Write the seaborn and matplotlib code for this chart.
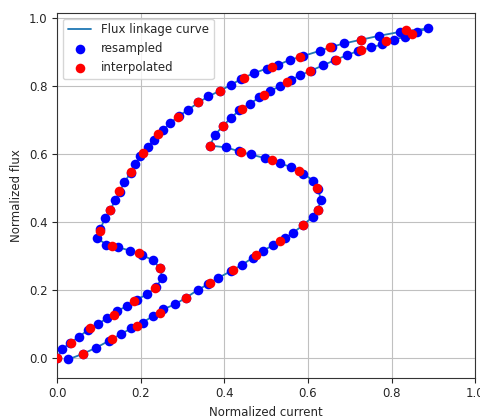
import matplotlib
matplotlib.use("Agg")
import matplotlib.pyplot as plt
import seaborn as sns

# resampled points, in order along the flux linkage curve
blue_x = [0.000, 0.012, 0.032, 0.053, 0.074, 0.097, 0.120, 0.144, 0.168, 0.190, 0.215, 0.236, 0.252,
          0.246, 0.229, 0.203, 0.175, 0.145, 0.117, 0.095, 0.103, 0.115, 0.127, 0.139, 0.150, 0.161,
          0.176, 0.187, 0.199, 0.217, 0.232, 0.253, 0.271, 0.292, 0.314, 0.338, 0.362, 0.390, 0.415,
          0.441, 0.472, 0.502, 0.529, 0.556, 0.589, 0.628, 0.657, 0.687, 0.728, 0.769, 0.821, 0.888,
          0.861, 0.831, 0.805, 0.777, 0.751, 0.720, 0.693, 0.665, 0.637, 0.608, 0.581, 0.559, 0.533,
          0.510, 0.484, 0.462, 0.436, 0.415, 0.396, 0.377, 0.366,
          0.404, 0.436, 0.463, 0.498, 0.533, 0.559, 0.589, 0.612, 0.624, 0.631, 0.624, 0.611, 0.588,
          0.565, 0.544, 0.516, 0.492, 0.468, 0.442, 0.416, 0.386, 0.362, 0.336, 0.309, 0.282, 0.253,
          0.229, 0.205, 0.177, 0.152, 0.123, 0.093, 0.061, 0.027]
blue_y = [0.000, 0.026, 0.045, 0.063, 0.083, 0.099, 0.118, 0.139, 0.153, 0.172, 0.187, 0.208, 0.236,
          0.264, 0.288, 0.303, 0.316, 0.326, 0.334, 0.354, 0.380, 0.411, 0.436, 0.464, 0.490, 0.518,
          0.545, 0.571, 0.594, 0.622, 0.643, 0.671, 0.692, 0.713, 0.731, 0.752, 0.770, 0.787, 0.803,
          0.822, 0.839, 0.852, 0.863, 0.877, 0.889, 0.904, 0.916, 0.926, 0.937, 0.948, 0.960, 0.970,
          0.960, 0.945, 0.937, 0.923, 0.914, 0.904, 0.891, 0.877, 0.862, 0.846, 0.832, 0.818, 0.800,
          0.786, 0.767, 0.749, 0.729, 0.706, 0.682, 0.656, 0.625,
          0.620, 0.608, 0.599, 0.588, 0.573, 0.562, 0.543, 0.522, 0.497, 0.466, 0.437, 0.415, 0.391,
          0.369, 0.352, 0.332, 0.315, 0.295, 0.274, 0.256, 0.236, 0.218, 0.200, 0.178, 0.158, 0.143,
          0.124, 0.104, 0.087, 0.070, 0.050, 0.030, 0.012, -0.004]

# interpolated points
red_x = [0.000, 0.033, 0.079, 0.137, 0.185, 0.234, 0.246, 0.195, 0.132, 0.103, 0.127, 0.149, 0.177,
         0.205, 0.242, 0.289, 0.338, 0.390, 0.448, 0.513, 0.580, 0.653, 0.727, 0.835,
         0.849, 0.787, 0.727, 0.667, 0.604, 0.551, 0.495, 0.442, 0.397, 0.366,
         0.439, 0.514, 0.578, 0.622, 0.624, 0.587, 0.533, 0.476, 0.420, 0.366, 0.309, 0.246, 0.190,
         0.132, 0.063]
red_y = [0.000, 0.045, 0.088, 0.128, 0.168, 0.207, 0.266, 0.308, 0.329, 0.374, 0.435, 0.491, 0.546,
         0.602, 0.658, 0.708, 0.752, 0.786, 0.825, 0.856, 0.885, 0.915, 0.936, 0.965,
         0.955, 0.932, 0.907, 0.878, 0.845, 0.812, 0.774, 0.732, 0.684, 0.624,
         0.607, 0.584, 0.551, 0.499, 0.437, 0.391, 0.344, 0.303, 0.259, 0.220, 0.177, 0.133, 0.094,
         0.055, 0.012]

sns.set_style("ticks", {"axes.grid": True, "grid.color": "#c0c0c0", "axes.edgecolor": "#333333"})
plt.rcParams["font.size"] = 8.5

fig = plt.figure(figsize=(4.8, 4.18), dpi=100)
ax = fig.add_axes([0.119, 0.0964, 0.871, 0.873])

sns.lineplot(x=blue_x, y=blue_y, sort=False, estimator=None, color="#1f77b4", linewidth=1.3,
             label="Flux linkage curve", ax=ax)
sns.scatterplot(x=blue_x, y=blue_y, color="blue", s=48, linewidth=0, label="resampled", ax=ax, zorder=3)
sns.scatterplot(x=red_x, y=red_y, color="red", s=48, linewidth=0, label="interpolated", ax=ax, zorder=4)

ax.set_xlim(0, 1.0)
ax.set_ylim(-0.058, 1.016)
ax.set_xticks([0.0, 0.2, 0.4, 0.6, 0.8, 1.0])
ax.set_yticks([0.0, 0.2, 0.4, 0.6, 0.8, 1.0])
ax.set_xlabel("Normalized current", fontsize=8.5)
ax.set_ylabel("Normalized flux", fontsize=8.5)
ax.tick_params(labelsize=8.5, length=3.5)
ax.legend(loc="upper left", fontsize=8.5)

fig.savefig("out.png", dpi=100)
